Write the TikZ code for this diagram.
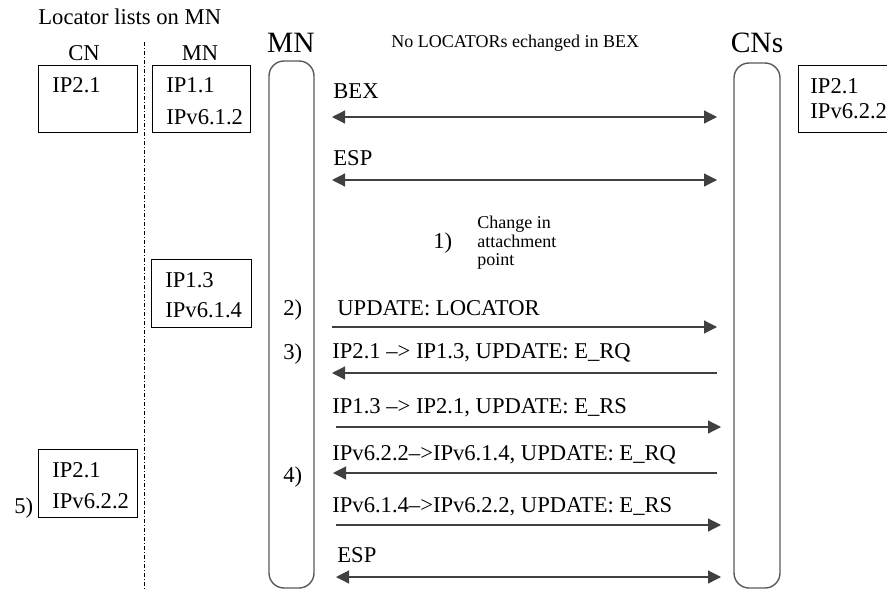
\documentclass[tikz,border=0pt]{standalone}
\usepackage{fontspec}
\setmainfont{Liberation Serif}
\usetikzlibrary{arrows.meta}
\begin{document}
\begin{tikzpicture}[x=0.5pt,y=-0.5pt,
  txt/.style={inner sep=0pt, anchor=base west, font=\fontsize{11.3}{13}\selectfont},
  txtc/.style={inner sep=0pt, anchor=base, font=\fontsize{11.3}{13}\selectfont},
  small/.style={inner sep=0pt, anchor=base west, font=\fontsize{9}{10}\selectfont},
  big/.style={inner sep=0pt, anchor=base, font=\fontsize{14.75}{16}\selectfont},
  locbox/.style={draw, line width=0.5pt, inner sep=0pt},
  lifeline/.style={draw=black!65, line width=0.7pt, rounded corners=7.5pt, inner sep=0pt},
  msg/.style={draw=black!75, line width=0.6pt},
  tip/.style={Triangle[length=6.5pt,width=6.5pt]},
  toR/.style={msg, -{Triangle[length=6.5pt,width=6.5pt]}},
  both/.style={msg, {Triangle[length=6.5pt,width=6.5pt]}-{Triangle[length=6.5pt,width=6.5pt]}},
  sep/.style={line width=0.5pt, dash pattern=on 2pt off 1pt on 0.5pt off 1pt}
]
\useasboundingbox (0,0) rectangle (887,589);

% headings
\node[txt] (title) at (38,25) {Locator lists on MN};
\node[txtc] (cnh) at (84,60) {CN};
\node[txtc] (mnh) at (200,60) {MN};
\node[big] (mnbig) at (291,52) {MN};
\node[big] (cnsbig) at (757,52) {CNs};
\node[small] (nolocs) at (391,47) {No LOCATORs echanged in BEX};

% separator
\coordinate (dtop) at (144,42);
\coordinate (dbot) at (144,589);
\draw[sep] (dtop) -- (dbot);

% locator boxes
\node[locbox, minimum width=49.5pt, minimum height=33.5pt] (cnbox) at (87.5,98.5) {};
\node[txt] (cnb1) at (52,92) {IP2.1};
\node[locbox, minimum width=49pt, minimum height=33.5pt] (mnbox) at (201,98.5) {};
\node[txt] (mnb1) at (166,92) {IP1.1};
\node[txt] (mnb2) at (166,124) {IPv6.1.2};
\node[locbox, minimum width=50pt, minimum height=34pt] (mnbox2) at (201,293) {};
\node[txt] (mnc1) at (165,287) {IP1.3};
\node[txt] (mnc2) at (165,317) {IPv6.1.4};
\node[locbox, minimum width=49.5pt, minimum height=34pt] (cnbox2) at (87.5,483) {};
\node[txt] (cnc1) at (52,477) {IP2.1};
\node[txt] (cnc2) at (52,508) {IPv6.2.2};
\node[txt] (s5) at (14,513) {5)};
\node[locbox, minimum width=51pt, minimum height=33.5pt] (rbox) at (849,98.5) {};
\node[txt] (rb1) at (810,93) {IP2.1};
\node[txt] (rb2) at (810,118) {IPv6.2.2};

% lifelines
\node[lifeline, minimum width=22.5pt, minimum height=263.5pt] (mnl) at (291.5,324.5) {};
\node[lifeline, minimum width=23pt, minimum height=262.5pt] (cnl) at (757,325.5) {};

% step labels
\node[txt] (s1) at (433,248) {1)};
\node[small] (ch1) at (477,228) {Change in};
\node[small] (ch2) at (477,247) {attachment};
\node[small] (ch3) at (477,265) {point};
\node[txt] (s2) at (283,315) {2)};
\node[txt] (s3) at (283,359) {3)};
\node[txt] (s4) at (283,482) {4)};

% messages
\node[txt] (m1) at (333,98) {BEX};
\coordinate (a1l) at (332,117); \coordinate (a1r) at (717,117);
\draw[both] (a1l) -- (a1r);

\node[txt] (m2) at (333,165) {ESP};
\coordinate (a2l) at (332,180); \coordinate (a2r) at (717,180);
\draw[both] (a2l) -- (a2r);

\node[txt] (m3) at (337,315) {UPDATE: LOCATOR};
\coordinate (a3l) at (332,327); \coordinate (a3r) at (717,327);
\draw[toR] (a3l) -- (a3r);

\node[txt] (m4) at (332,358) {IP2.1 –> IP1.3, UPDATE: E\_RQ};
\coordinate (a4l) at (332,373); \coordinate (a4r) at (717,373);
\draw[toR] (a4r) -- (a4l);

\node[txt] (m5) at (332,413) {IP1.3 –> IP2.1, UPDATE: E\_RS};
\coordinate (a5l) at (336,427); \coordinate (a5r) at (721,427);
\draw[toR] (a5l) -- (a5r);

\node[txt] (m6) at (332,460) {IPv6.2.2–>IPv6.1.4, UPDATE: E\_RQ};
\coordinate (a6l) at (333,473); \coordinate (a6r) at (717,473);
\draw[toR] (a6r) -- (a6l);

\node[txt] (m7) at (332,512) {IPv6.1.4–>IPv6.2.2, UPDATE: E\_RS};
\coordinate (a7l) at (336,525); \coordinate (a7r) at (721,525);
\draw[toR] (a7l) -- (a7r);

\node[txt] (m8) at (337,562) {ESP};
\coordinate (a8l) at (336,577); \coordinate (a8r) at (721,577);
\draw[both] (a8l) -- (a8r);
\end{tikzpicture}
\end{document}
